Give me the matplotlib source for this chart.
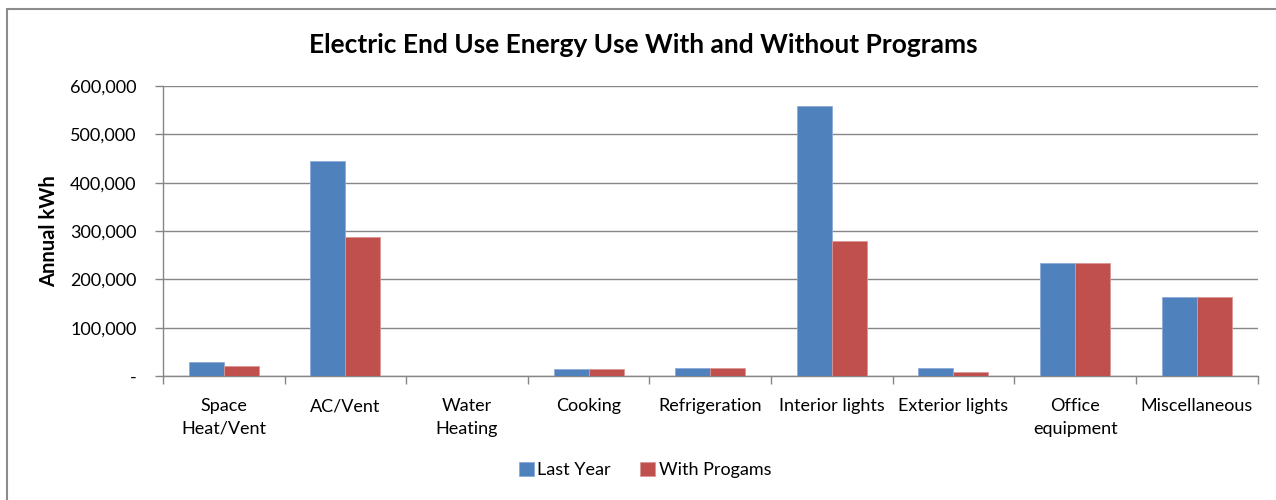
import matplotlib
matplotlib.use("Agg")
import matplotlib.pyplot as plt
import numpy as np
from matplotlib.patches import Rectangle
from matplotlib.ticker import FuncFormatter, FixedLocator

categories = ["Space\nHeat/Vent", "AC/Vent", "Water\nHeating", "Cooking", "Refrigeration",
              "Interior lights", "Exterior lights", "Office\nequipment", "Miscellaneous"]
last_year = [29000, 444000, 0, 15000, 17000, 558000, 17000, 234000, 164000]
with_programs = [21000, 288000, 0, 15000, 17000, 279000, 8000, 234000, 164000]
series_names = ["Last Year", "With Progams"]
yticks = [0, 100000, 200000, 300000, 400000, 500000, 600000]

plt.rcParams['font.family'] = ['Lato', 'DejaVu Sans']

W, H = 1276, 500
fig = plt.figure(figsize=(W / 100, H / 100), dpi=100)
ax = fig.add_axes([163 / W, (500 - 376) / H, (1257.5 - 163) / W, (376 - 86) / H])

x = np.arange(len(categories))
bw = 0.288
blue = "#4F81BD"
red = "#C0504D"
ax.bar(x - bw / 2, last_year, bw, color=blue, edgecolor="#8EAADB", linewidth=0.6, label=series_names[0], zorder=3)
ax.bar(x + bw / 2, with_programs, bw, color=red, edgecolor="#DA9694", linewidth=0.6, label=series_names[1], zorder=3)

ax.set_xlim(-0.5, len(categories) - 0.5)
ax.set_ylim(0, 600000)
ax.set_yticks(yticks)
ax.yaxis.set_major_formatter(FuncFormatter(lambda v, p: "-" if v == 0 else f"{int(v):,}"))
ax.set_xticks(x)
ax.set_xticklabels(categories, fontsize=13, linespacing=1.5)
ax.xaxis.set_minor_locator(FixedLocator(np.arange(-0.5, len(categories), 1.0)))
ax.tick_params(axis='x', which='major', length=0, pad=16)
ax.tick_params(axis='x', which='minor', length=6, color="#868686", width=1)
ax.tick_params(axis='y', length=6, color="#868686", width=1, labelsize=13, pad=13)

ax.grid(axis='y', color="#868686", linewidth=1, zorder=0)
for s in ["top", "right"]:
    ax.spines[s].set_visible(False)
ax.spines["left"].set_color("#868686")
ax.spines["bottom"].set_color("#868686")
ax.spines["left"].set_linewidth(1)
ax.spines["bottom"].set_linewidth(1)

ax.set_ylabel("Annual kWh", fontsize=14.5, fontweight="bold", labelpad=8)
fig.text(643 / W, 1 - 45 / H, "Electric End Use Energy Use With and Without Programs",
         ha="center", va="center", fontsize=19, fontweight="bold")

leg = fig.legend(loc="center", bbox_to_anchor=(645 / W, 1 - 470 / H), ncol=2, frameon=False,
                 fontsize=13, handlelength=0.85, handleheight=0.85, handletextpad=0.2, columnspacing=1.6)

fig.patches.append(Rectangle((7 / W, -0.1), 1.2, 1.1 - 9 / H, transform=fig.transFigure,
                             fill=False, edgecolor="#8C8C8C", linewidth=1.5))

fig.savefig("out.png", dpi=100)
